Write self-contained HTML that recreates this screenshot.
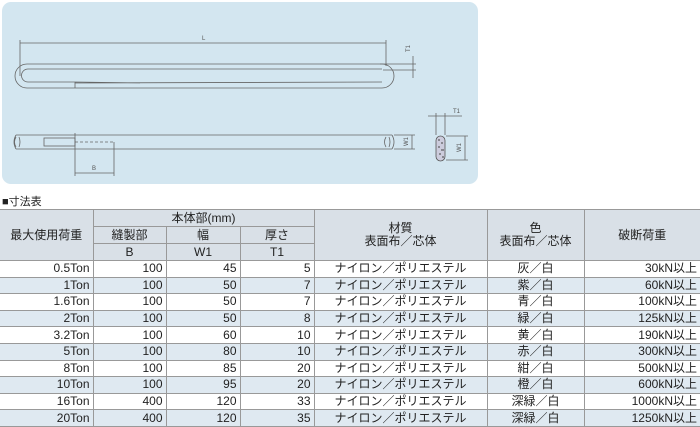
<!DOCTYPE html>
<html><head><meta charset="utf-8"><style>
body{margin:0;width:700px;height:425px;background:#fff;overflow:hidden;position:relative;font-family:"Liberation Sans","Noto Sans CJK JP",sans-serif;}
.panel{position:absolute;left:2px;top:2px;width:476px;height:182px;background:#d3e6f0;border-radius:9px;}
svg{position:absolute;left:0;top:0;}
.cap{position:absolute;left:2px;top:193px;font-size:11px;color:#222;}
table{position:absolute;left:0;top:209px;border-collapse:collapse;table-layout:fixed;font-size:12px;color:#222;}
td{border:1px solid #999;padding:0 3px;height:15.6px;line-height:15px;white-space:nowrap;overflow:hidden;}
tr.h td{background:#d9e0e7;text-align:center;height:16px;}
td.r{text-align:right}
td.c{text-align:center}
tr.b td{background:#dfe9f1}
table tr td:first-child{border-left:none}
table tr td:last-child{border-right:none}
</style></head><body>
<div class="panel"></div>
<svg width="480" height="190" viewBox="0 0 480 190" fill="none" stroke="#666" stroke-width="0.8">
<line x1="20" y1="43" x2="386" y2="43"/>
<line x1="20" y1="40" x2="20" y2="76"/>
<line x1="386" y1="40" x2="386" y2="66"/>
<text x="202" y="40" font-size="6" fill="#555" stroke="none" font-family="Liberation Sans">L</text>
<path d="M382 64 L27 64 A12 12 0 0 0 27 88 L382 88 A12 12 0 0 0 382 64"/>
<path d="M382 69 L28 69 A6.5 6.5 0 0 0 28 82 L75 82 M75 82 L75 88 M75 82 L140 83 M75 83 L382 82"/>
<line x1="380" y1="64" x2="416" y2="64"/>
<line x1="383" y1="70" x2="416" y2="70"/>
<line x1="413" y1="56" x2="413" y2="78"/>
<text x="0" y="0" font-size="6" fill="#555" stroke="none" transform="translate(410,52) rotate(-90)" font-family="Liberation Sans">T1</text>
<path d="M16 135 L392 135 M16 149 L392 149 M16 135 Q12 142 16 149 M392 135 Q396 142 392 149"/>
<path d="M16 137 Q13 142 16 147 M19 137 Q21 142 19 147 M386 137 Q383 142 386 147 M389 137 Q391 142 389 147"/>
<rect x="44" y="138" width="31" height="8"/>
<line x1="75" y1="133" x2="75" y2="176"/>
<line x1="75" y1="142" x2="114" y2="142" stroke-dasharray="3 2"/>
<line x1="114" y1="142" x2="114" y2="176"/>
<line x1="75" y1="173" x2="114" y2="173"/>
<text x="92" y="170" font-size="6" fill="#555" stroke="none" font-family="Liberation Sans">B</text>
<line x1="394" y1="135" x2="415" y2="135"/><line x1="394" y1="149" x2="415" y2="149"/>
<line x1="412" y1="135" x2="412" y2="149"/>
<text x="0" y="0" font-size="6" fill="#555" stroke="none" transform="translate(408,146) rotate(-90)" font-family="Liberation Sans">W1</text>
<rect x="436" y="136" width="9" height="25" rx="4.5" fill="#ccd" stroke="#555"/>
<path d="M438 140h2m1 3h2m-5 4h2m1 3h3m-5 4h2m1 3h2" stroke="#444" stroke-width="1"/>
<line x1="436" y1="113" x2="436" y2="135"/><line x1="445" y1="113" x2="445" y2="135"/>
<line x1="428" y1="116" x2="462" y2="116"/>
<text x="453" y="113" font-size="6" fill="#555" stroke="none" font-family="Liberation Sans">T1</text>
<line x1="446" y1="136" x2="468" y2="136"/><line x1="446" y1="160" x2="468" y2="160"/>
<line x1="465" y1="136" x2="465" y2="160"/>
<text x="0" y="0" font-size="6" fill="#555" stroke="none" transform="translate(461,152) rotate(-90)" font-family="Liberation Sans">W1</text>
</svg>
<div class="cap">■寸法表</div>
<table>
<colgroup><col style="width:93px"><col style="width:73px"><col style="width:74px"><col style="width:74px"><col style="width:173px"><col style="width:97px"><col style="width:116px"></colgroup>
<tr class="h"><td rowspan="3">最大使用荷重</td><td colspan="3">本体部(mm)</td><td rowspan="3" style="line-height:13px">材質<br>表面布／芯体</td><td rowspan="3" style="line-height:13px">色<br>表面布／芯体</td><td rowspan="3">破断荷重</td></tr>
<tr class="h"><td>縫製部</td><td>幅</td><td>厚さ</td></tr>
<tr class="h"><td>B</td><td>W1</td><td>T1</td></tr>
<tr><td class="r">0.5Ton</td><td class="r">100</td><td class="r">45</td><td class="r">5</td><td class="c">ナイロン／ポリエステル</td><td class="c">灰／白</td><td class="r">30kN以上</td></tr>
<tr class="b"><td class="r">1Ton</td><td class="r">100</td><td class="r">50</td><td class="r">7</td><td class="c">ナイロン／ポリエステル</td><td class="c">紫／白</td><td class="r">60kN以上</td></tr>
<tr><td class="r">1.6Ton</td><td class="r">100</td><td class="r">50</td><td class="r">7</td><td class="c">ナイロン／ポリエステル</td><td class="c">青／白</td><td class="r">100kN以上</td></tr>
<tr class="b"><td class="r">2Ton</td><td class="r">100</td><td class="r">50</td><td class="r">8</td><td class="c">ナイロン／ポリエステル</td><td class="c">緑／白</td><td class="r">125kN以上</td></tr>
<tr><td class="r">3.2Ton</td><td class="r">100</td><td class="r">60</td><td class="r">10</td><td class="c">ナイロン／ポリエステル</td><td class="c">黄／白</td><td class="r">190kN以上</td></tr>
<tr class="b"><td class="r">5Ton</td><td class="r">100</td><td class="r">80</td><td class="r">10</td><td class="c">ナイロン／ポリエステル</td><td class="c">赤／白</td><td class="r">300kN以上</td></tr>
<tr><td class="r">8Ton</td><td class="r">100</td><td class="r">85</td><td class="r">20</td><td class="c">ナイロン／ポリエステル</td><td class="c">紺／白</td><td class="r">500kN以上</td></tr>
<tr class="b"><td class="r">10Ton</td><td class="r">100</td><td class="r">95</td><td class="r">20</td><td class="c">ナイロン／ポリエステル</td><td class="c">橙／白</td><td class="r">600kN以上</td></tr>
<tr><td class="r">16Ton</td><td class="r">400</td><td class="r">120</td><td class="r">33</td><td class="c">ナイロン／ポリエステル</td><td class="c">深緑／白</td><td class="r">1000kN以上</td></tr>
<tr class="b"><td class="r">20Ton</td><td class="r">400</td><td class="r">120</td><td class="r">35</td><td class="c">ナイロン／ポリエステル</td><td class="c">深緑／白</td><td class="r">1250kN以上</td></tr>
</table>
</body></html>
